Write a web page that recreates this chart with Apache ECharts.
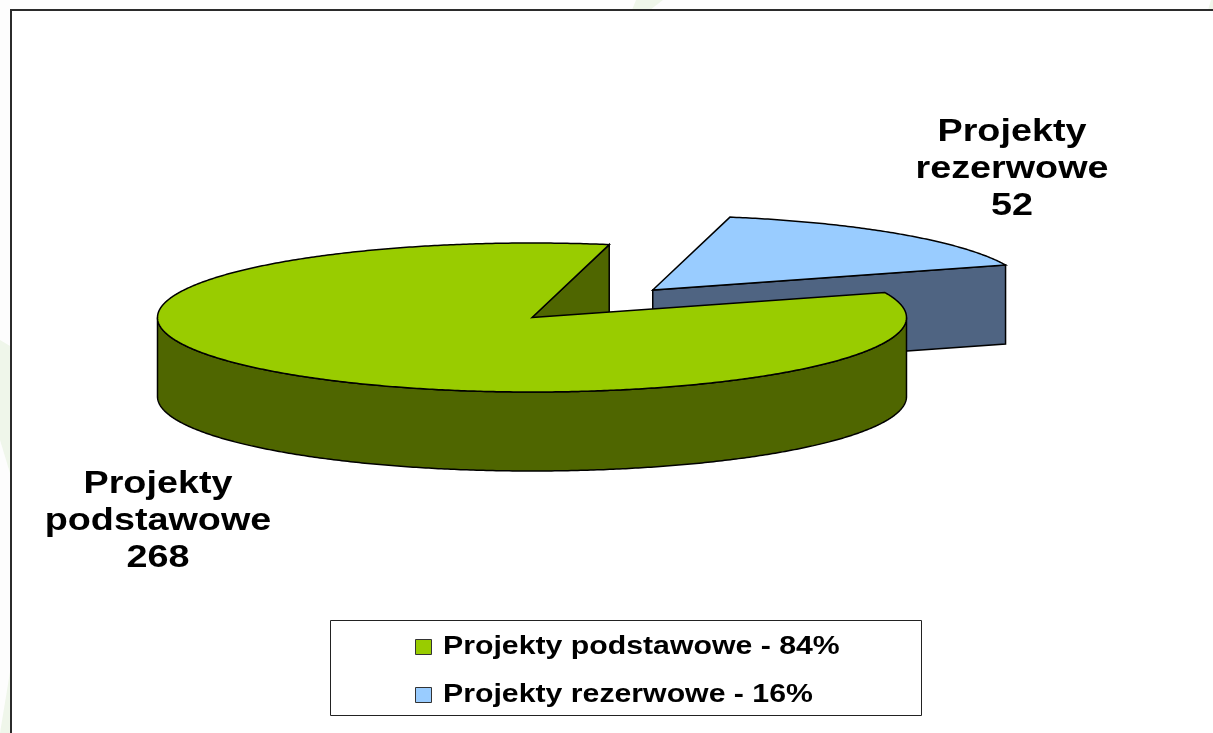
<!DOCTYPE html>
<html>
<head>
<meta charset="utf-8">
<style>
html, body { margin: 0; padding: 0; background: #fdfdfd; }
#chart { width: 1213px; height: 733px; }
</style>
<script src="https://cdn.jsdelivr.net/npm/echarts@6/dist/echarts.min.js"></script>
</head>
<body>
<div id="chart"></div>
<script>
var categories = ['Projekty podstawowe', 'Projekty rezerwowe'];
var values = [268, 52];
var topColors = ['#99cc00', '#99ccff'];
var sideColors = ['#4f6600', '#4f6482'];
var explodes = [0, 0.49];

// pie geometry: the library has no tilted pie, so it is worked out here
var CX = 532, CY = 317.5, RX = 374.5, RY = 74.5, DEPTH = 79;
var START_DEG = 70.4;
var FONT = '"Liberation Sans", Arial, sans-serif';

var total = values.reduce(function (a, b) { return a + b; }, 0);

function rimPoint(deg, ox, oy, dy) {
    var r = deg * Math.PI / 180;
    return [CX + ox + RX * Math.sin(r), CY + oy + dy - RY * Math.cos(r)];
}

function arcPoints(from, to, ox, oy, dy) {
    var pts = [];
    var n = Math.max(2, Math.ceil(Math.abs(to - from) * 2));
    for (var i = 0; i <= n; i++) {
        pts.push(rimPoint(from + (to - from) * i / n, ox, oy, dy));
    }
    return pts;
}

function poly(points, fill) {
    return {
        type: 'polygon',
        shape: { points: points },
        style: { fill: fill, stroke: '#000', lineWidth: 1.5 }
    };
}

function sliceItem(index) {
    return function (params, api) {
        var before = 0;
        for (var i = 0; i < index; i++) before += values[i];
        var from = START_DEG + before / total * 360;
        var to = from + api.value(0) / total * 360;
        var mid = (from + to) / 2 * Math.PI / 180;
        var ox = explodes[index] * RX * Math.sin(mid);
        var oy = -explodes[index] * RY * Math.cos(mid);
        var apex = [CX + ox, CY + oy];
        var apexLow = [apex[0], apex[1] + DEPTH];
        var children = [];

        // radial faces, only the ones turned to the viewer
        [[to, 1], [from, -1]].forEach(function (f) {
            if (Math.sin(f[0] * Math.PI / 180) * f[1] > 0) {
                children.push(poly([apex, rimPoint(f[0], ox, oy, 0), rimPoint(f[0], ox, oy, DEPTH), apexLow], sideColors[index]));
            }
        });

        // front wall, between 90 and 270 degrees
        var a = Math.max(from, 90), b = Math.min(to, 270);
        if (b > a) {
            var wall = arcPoints(a, b, ox, oy, 0).concat(arcPoints(b, a, ox, oy, DEPTH));
            children.push(poly(wall, sideColors[index]));
        }

        // top face
        children.push(poly([apex].concat(arcPoints(from, to, ox, oy, 0)), topColors[index]));
        return { type: 'group', children: children };
    };
}

// draw the exploded slice first so the big one sits over it
var series = categories.map(function (name, i) {
    return {
        type: 'custom',
        name: name,
        coordinateSystem: 'none',
        z: 5 + i * -1,
        renderItem: sliceItem(i),
        data: [[values[i]]],
        silent: true
    };
});

var labelSpots = [[158, 521.5], [1012, 169]];
var labels = categories.map(function (name, i) {
    return {
        type: 'text',
        x: labelSpots[i][0],
        y: labelSpots[i][1],
        scaleX: 1.18,
        z: 20,
        style: {
            text: name.split(' ').join('\n') + '\n' + values[i],
            font: 'bold 32px ' + FONT,
            lineHeight: 37,
            fill: '#000',
            align: 'center',
            verticalAlign: 'middle'
        }
    };
});

var legendRows = [647, 695];
var legendItems = [];
categories.forEach(function (name, i) {
    legendItems.push({
        type: 'rect',
        z: 20,
        shape: { x: 415.5, y: legendRows[i] - 7.5, width: 16, height: 15 },
        style: { fill: topColors[i], stroke: '#333', lineWidth: 1 }
    });
    legendItems.push({
        type: 'text',
        x: 443,
        y: legendRows[i],
        scaleX: 1.21,
        z: 20,
        style: {
            text: name + ' - ' + Math.round(values[i] / total * 100) + '%',
            font: 'bold 25px ' + FONT,
            fill: '#000',
            align: 'left',
            verticalAlign: 'middle'
        }
    });
});

var backdrop = [
    { type: 'polygon', z: -5, shape: { points: [[0, 340], [10, 346], [10, 473], [0, 440]] }, style: { fill: '#eff6ea' } },
    { type: 'polygon', z: -5, shape: { points: [[0, 733], [10, 733], [10, 672]] }, style: { fill: '#eff6ea' } },
    { type: 'polygon', z: -5, shape: { points: [[632, 10], [650, 10], [663, 0], [636, 0]] }, style: { fill: '#eff6ea' } },
    { type: 'polygon', z: -5, shape: { points: [[1208, 10], [1213, 10], [1213, 0], [1211, 0]] }, style: { fill: '#eff6ea' } },
    {
        type: 'rect',
        z: -4,
        shape: { x: 11, y: 10, width: 1230, height: 760 },
        style: { fill: '#fff', stroke: '#2b2b2b', lineWidth: 2 }
    },
    {
        type: 'rect',
        z: 15,
        shape: { x: 330.5, y: 620.5, width: 591, height: 95 },
        style: { fill: '#fff', stroke: '#222', lineWidth: 1 }
    }
];

var chart = echarts.init(document.getElementById('chart'));
chart.setOption({
    animation: false,
    backgroundColor: '#fdfdfd',
    series: series,
    graphic: { elements: backdrop.concat(labels, legendItems) }
});
</script>
</body>
</html>
